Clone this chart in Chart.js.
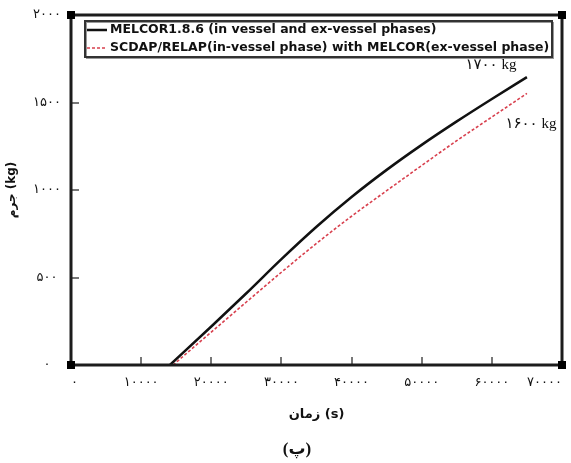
<!DOCTYPE html>
<html>
<head>
<meta charset="utf-8">
<script src="https://cdn.jsdelivr.net/npm/chart.js@4.4.0/dist/chart.umd.min.js"></script>
<style>
  html, body { margin: 0; padding: 0; background: #fff; }
  #wrap { width: 571px; height: 463px; position: relative; }
</style>
</head>
<body>
<div id="wrap"><canvas id="chart"></canvas></div>
<script>
// time (s) and mass (kg)
const timeMelcor = [14100, 20000, 25000, 30000, 35000, 40000, 45000, 50000, 55000, 60000, 65000];
const massMelcor = [0, 220, 410, 605, 790, 960, 1115, 1258, 1392, 1520, 1645];
const timeScdap = [14550, 20000, 25000, 30000, 35000, 40000, 45000, 50000, 55000, 60000, 65000];
const massScdap = [0, 188, 360, 530, 695, 850, 996, 1140, 1282, 1417, 1552];

const seriesNames = [
  'MELCOR1.8.6 (in vessel and ex-vessel phases)',
  'SCDAP/RELAP(in-vessel phase) with MELCOR(ex-vessel phase)'
];
const endLabels = ['۱۷۰۰ kg', '۱۶۰۰ kg'];

const xTickValues = [0, 10000, 20000, 30000, 40000, 50000, 60000, 70000];
const xTickLabels = ['۰', '۱۰۰۰۰', '۲۰۰۰۰', '۳۰۰۰۰', '۴۰۰۰۰', '۵۰۰۰۰', '۶۰۰۰۰', '۷۰۰۰۰'];
const yTickValues = [0, 500, 1000, 1500, 2000];
const yTickLabels = ['۰', '۵۰۰', '۱۰۰۰', '۱۵۰۰', '۲۰۰۰'];

const xTitle = 'زمان (s)';
const yTitle = 'جرم (kg)';
const caption = '(پ)';

const toPoints = (xs, ys) => xs.map((x, i) => ({ x, y: ys[i] }));

function tickText(values, labels, v) {
  const i = values.indexOf(v);
  return i >= 0 ? labels[i] : '';
}

// frame, inward ticks, corner squares, legend, end labels, caption
const decor = {
  id: 'decor',
  afterDatasetsDraw(chart) {
    const { ctx, chartArea: a, scales } = chart;
    ctx.save();

    // inward tick marks
    ctx.strokeStyle = '#777';
    ctx.lineWidth = 2;
    scales.x.ticks.forEach(t => {
      if (t.value <= 0 || t.value >= 70000) return;
      const px = Math.round(scales.x.getPixelForValue(t.value));
      ctx.beginPath(); ctx.moveTo(px, a.bottom); ctx.lineTo(px, a.bottom - 8); ctx.stroke();
    });
    scales.y.ticks.forEach(t => {
      if (t.value <= 0 || t.value >= 2000) return;
      const py = Math.round(scales.y.getPixelForValue(t.value));
      ctx.beginPath(); ctx.moveTo(a.left, py); ctx.lineTo(a.left + 8, py); ctx.stroke();
    });

    // box
    ctx.strokeStyle = '#1c1c1c';
    ctx.lineWidth = 3;
    ctx.strokeRect(a.left, a.top, a.right - a.left, a.bottom - a.top);
    ctx.fillStyle = '#000';
    [[a.left, a.top], [a.right, a.top], [a.left, a.bottom], [a.right, a.bottom]].forEach(([cx, cy]) => {
      ctx.fillRect(cx - 4, cy - 4, 8, 8);
    });

    // legend
    const lx = 85, ly = 21, lw = 467, lh = 36;
    ctx.fillStyle = '#fff';
    ctx.fillRect(lx, ly, lw, lh);
    ctx.strokeStyle = '#999';
    ctx.lineWidth = 1;
    ctx.strokeRect(lx + 1.5, ly + 1.5, lw, lh);
    ctx.strokeStyle = '#333';
    ctx.lineWidth = 2;
    ctx.strokeRect(lx, ly, lw, lh);

    ctx.font = 'bold 12.5px "DejaVu Sans"';
    ctx.textBaseline = 'middle';
    ctx.textAlign = 'left';
    chart.data.datasets.forEach((ds, i) => {
      const yy = ly + 9 + i * 18;
      ctx.strokeStyle = ds.borderColor;
      ctx.lineWidth = i === 0 ? 2.5 : 1.5;
      ctx.setLineDash(ds.borderDash || []);
      ctx.beginPath(); ctx.moveTo(lx + 2, yy); ctx.lineTo(lx + 22, yy); ctx.stroke();
      ctx.setLineDash([]);
      ctx.fillStyle = '#111';
      ctx.fillText(seriesNames[i], lx + 25, yy);
    });

    // labels at curve ends
    ctx.font = '15px "Liberation Serif", "DejaVu Sans"';
    ctx.fillStyle = '#111';
    ctx.textAlign = 'center';
    const offs = [[-36, -12], [4, 31]];
    chart.data.datasets.forEach((ds, i) => {
      const last = ds.data[ds.data.length - 1];
      const px = scales.x.getPixelForValue(last.x);
      const py = scales.y.getPixelForValue(last.y);
      ctx.fillText(endLabels[i], px + offs[i][0], py + offs[i][1]);
    });

    // caption
    ctx.font = 'bold 17px "Liberation Serif", "DejaVu Sans"';
    ctx.fillText(caption, 297, 450);
    ctx.restore();
  }
};

new Chart(document.getElementById('chart'), {
  type: 'scatter',
  data: {
    datasets: [
      {
        label: seriesNames[0],
        data: toPoints(timeMelcor, massMelcor),
        showLine: true,
        borderColor: '#111',
        borderWidth: 2.5,
        pointRadius: 0,
        cubicInterpolationMode: 'monotone',
        order: 1
      },
      {
        label: seriesNames[1],
        data: toPoints(timeScdap, massScdap),
        showLine: true,
        borderColor: '#d8404e',
        borderWidth: 1.6,
        borderDash: [3, 2],
        pointRadius: 0,
        cubicInterpolationMode: 'monotone',
        order: 2
      }
    ]
  },
  options: {
    responsive: true,
    maintainAspectRatio: false,
    animation: false,
    layout: { padding: { top: 15, right: 9, bottom: 33, left: 0 } },
    plugins: {
      legend: { display: false },
      title: { display: false },
      tooltip: { enabled: false }
    },
    scales: {
      x: {
        type: 'linear',
        min: 0,
        max: 70000,
        afterBuildTicks: s => { s.ticks = xTickValues.map(v => ({ value: v })); },
        afterFit: s => { s.height = 65; s.paddingLeft = 0; s.paddingRight = 0; },
        grid: { display: false, drawTicks: false, tickLength: 0 },
        border: { display: false },
        ticks: {
          padding: 10,
          align: 'inner',
          color: '#111',
          font: { family: 'DejaVu Sans', size: 13 },
          maxRotation: 0,
          autoSkip: false,
          callback: v => tickText(xTickValues, xTickLabels, v)
        },
        title: {
          display: true,
          text: xTitle,
          color: '#111',
          font: { family: 'DejaVu Sans', size: 13, weight: 'bold' },
          padding: { top: 0, bottom: 8 }
        }
      },
      y: {
        type: 'linear',
        min: 0,
        max: 2000,
        afterBuildTicks: s => { s.ticks = yTickValues.map(v => ({ value: v })); },
        afterFit: s => { s.width = 71; s.paddingTop = 0; s.paddingBottom = 0; },
        grid: { display: false, drawTicks: false, tickLength: 0 },
        border: { display: false },
        ticks: {
          padding: 10,
          crossAlign: 'center',
          color: '#111',
          font: { family: 'DejaVu Sans', size: 13 },
          callback: v => tickText(yTickValues, yTickLabels, v)
        },
        title: {
          display: true,
          text: yTitle,
          color: '#111',
          font: { family: 'DejaVu Sans', size: 12, weight: 'bold' },
          padding: { top: 5, bottom: 0 }
        }
      }
    }
  },
  plugins: [decor]
});
</script>
</body>
</html>
